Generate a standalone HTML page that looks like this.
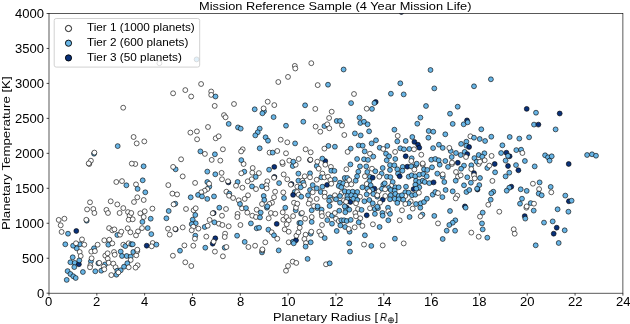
<!DOCTYPE html>
<html><head><meta charset="utf-8"><title>Mission Reference Sample</title>
<style>
html,body{margin:0;padding:0;background:#fff}
body{width:630px;height:324px;position:relative;overflow:hidden;font-family:"Liberation Sans",sans-serif;color:#000}
svg{position:absolute;left:0;top:0}
.t{will-change:transform;position:absolute;white-space:nowrap;line-height:1;transform-origin:0 0}
.tk{font-size:12.5px}
.lb{font-size:11.3px}
.ti{font-size:11.6px}
.yl{font-size:11.2px}
.lg{font-size:10.6px}
circle{stroke:#000;stroke-width:.62}
.a{fill:#fff}.b{fill:#68b5e6}.c{fill:#09317a}
</style></head><body>
<svg width="630" height="324" viewBox="0 0 630 324">
<clipPath id="ax"><rect x="49.00" y="13.50" width="573.90" height="279.70"/></clipPath><g clip-path="url(#ax)"><circle class="c" cx="175.7" cy="229.4" r="2.45"/><circle class="c" cx="213.7" cy="213.0" r="2.45"/><circle class="c" cx="467.0" cy="120.4" r="2.45"/><circle class="c" cx="464.9" cy="206.4" r="2.45"/><circle class="c" cx="325.3" cy="161.1" r="2.45"/><circle class="b" cx="94.0" cy="248.3" r="2.45"/><circle class="b" cx="76.7" cy="248.3" r="2.45"/><circle class="a" cx="159.4" cy="63.2" r="2.45"/><circle class="b" cx="196.6" cy="59.4" r="2.45"/><circle class="b" cx="72.7" cy="257.3" r="2.45"/><circle class="b" cx="70.4" cy="262.3" r="2.45"/><circle class="b" cx="74.7" cy="262.9" r="2.45"/><circle class="b" cx="74.3" cy="267.1" r="2.45"/><circle class="c" cx="78.9" cy="264.3" r="2.45"/><circle class="b" cx="79.3" cy="260.4" r="2.45"/><circle class="b" cx="67.6" cy="271.1" r="2.45"/><circle class="b" cx="70.4" cy="274.0" r="2.45"/><circle class="b" cx="73.3" cy="276.3" r="2.45"/><circle class="b" cx="75.7" cy="278.0" r="2.45"/><circle class="b" cx="66.7" cy="279.9" r="2.45"/><circle class="b" cx="82.9" cy="272.0" r="2.45"/><circle class="b" cx="95.3" cy="271.3" r="2.45"/><circle class="a" cx="79.7" cy="252.0" r="2.45"/><circle class="a" cx="80.7" cy="256.0" r="2.45"/><circle class="a" cx="91.3" cy="251.6" r="2.45"/><circle class="a" cx="94.9" cy="251.1" r="2.45"/><circle class="b" cx="90.9" cy="261.3" r="2.45"/><circle class="a" cx="91.6" cy="258.3" r="2.45"/><circle class="a" cx="90.4" cy="265.3" r="2.45"/><circle class="a" cx="90.0" cy="267.3" r="2.45"/><circle class="b" cx="98.4" cy="263.3" r="2.45"/><circle class="a" cx="99.3" cy="262.9" r="2.45"/><circle class="a" cx="105.3" cy="255.6" r="2.45"/><circle class="a" cx="107.6" cy="253.3" r="2.45"/><circle class="a" cx="107.7" cy="258.7" r="2.45"/><circle class="b" cx="105.1" cy="264.4" r="2.45"/><circle class="a" cx="108.7" cy="262.7" r="2.45"/><circle class="b" cx="101.3" cy="270.7" r="2.45"/><circle class="a" cx="103.7" cy="266.7" r="2.45"/><circle class="a" cx="104.3" cy="269.3" r="2.45"/><circle class="a" cx="113.3" cy="263.6" r="2.45"/><circle class="a" cx="115.6" cy="267.3" r="2.45"/><circle class="b" cx="117.3" cy="270.7" r="2.45"/><circle class="b" cx="120.7" cy="270.3" r="2.45"/><circle class="b" cx="116.4" cy="274.7" r="2.45"/><circle class="a" cx="118.4" cy="272.4" r="2.45"/><circle class="a" cx="111.3" cy="275.1" r="2.45"/><circle class="a" cx="114.0" cy="252.0" r="2.45"/><circle class="a" cx="114.7" cy="254.7" r="2.45"/><circle class="b" cx="120.7" cy="251.6" r="2.45"/><circle class="b" cx="122.0" cy="256.0" r="2.45"/><circle class="b" cx="126.7" cy="256.0" r="2.45"/><circle class="b" cx="130.7" cy="256.7" r="2.45"/><circle class="a" cx="130.7" cy="260.0" r="2.45"/><circle class="b" cx="127.3" cy="263.3" r="2.45"/><circle class="b" cx="124.0" cy="266.7" r="2.45"/><circle class="a" cx="128.7" cy="267.3" r="2.45"/><circle class="a" cx="137.6" cy="265.3" r="2.45"/><circle class="a" cx="135.6" cy="267.6" r="2.45"/><circle class="b" cx="133.3" cy="252.0" r="2.45"/><circle class="a" cx="136.3" cy="255.3" r="2.45"/><circle class="a" cx="137.3" cy="251.1" r="2.45"/><circle class="a" cx="172.9" cy="255.7" r="2.45"/><circle class="b" cx="180.0" cy="250.7" r="2.45"/><circle class="a" cx="185.3" cy="262.3" r="2.45"/><circle class="a" cx="191.3" cy="266.0" r="2.45"/><circle class="a" cx="214.9" cy="251.6" r="2.45"/><circle class="a" cx="222.9" cy="256.3" r="2.45"/><circle class="b" cx="262.0" cy="252.4" r="2.45"/><circle class="a" cx="262.3" cy="250.4" r="2.45"/><circle class="b" cx="278.7" cy="250.4" r="2.45"/><circle class="a" cx="292.7" cy="261.6" r="2.45"/><circle class="a" cx="296.3" cy="262.9" r="2.45"/><circle class="a" cx="288.0" cy="266.0" r="2.45"/><circle class="a" cx="286.0" cy="270.7" r="2.45"/><circle class="b" cx="307.6" cy="258.9" r="2.45"/><circle class="a" cx="326.0" cy="264.3" r="2.45"/><circle class="b" cx="329.7" cy="263.3" r="2.45"/><circle class="b" cx="350.0" cy="251.6" r="2.45"/><circle class="a" cx="58.7" cy="219.9" r="2.45"/><circle class="a" cx="64.4" cy="218.7" r="2.45"/><circle class="a" cx="60.7" cy="225.3" r="2.45"/><circle class="a" cx="61.6" cy="231.9" r="2.45"/><circle class="b" cx="68.0" cy="233.7" r="2.45"/><circle class="c" cx="76.3" cy="231.0" r="2.45"/><circle class="b" cx="86.7" cy="220.7" r="2.45"/><circle class="a" cx="86.3" cy="219.8" r="2.45"/><circle class="a" cx="87.1" cy="209.4" r="2.45"/><circle class="a" cx="93.3" cy="209.0" r="2.45"/><circle class="a" cx="94.4" cy="213.0" r="2.45"/><circle class="a" cx="106.4" cy="209.9" r="2.45"/><circle class="a" cx="108.0" cy="213.0" r="2.45"/><circle class="a" cx="119.6" cy="213.0" r="2.45"/><circle class="a" cx="123.3" cy="208.1" r="2.45"/><circle class="a" cx="128.0" cy="212.1" r="2.45"/><circle class="a" cx="129.6" cy="215.7" r="2.45"/><circle class="a" cx="128.7" cy="219.7" r="2.45"/><circle class="a" cx="131.3" cy="213.0" r="2.45"/><circle class="a" cx="109.1" cy="228.1" r="2.45"/><circle class="a" cx="112.3" cy="230.3" r="2.45"/><circle class="a" cx="114.4" cy="229.4" r="2.45"/><circle class="b" cx="117.3" cy="235.0" r="2.45"/><circle class="a" cx="120.0" cy="234.7" r="2.45"/><circle class="a" cx="121.3" cy="231.7" r="2.45"/><circle class="a" cx="127.7" cy="228.3" r="2.45"/><circle class="a" cx="130.4" cy="232.3" r="2.45"/><circle class="b" cx="65.3" cy="244.3" r="2.45"/><circle class="b" cx="73.1" cy="245.7" r="2.45"/><circle class="b" cx="80.0" cy="244.3" r="2.45"/><circle class="a" cx="76.0" cy="243.3" r="2.45"/><circle class="a" cx="82.0" cy="239.4" r="2.45"/><circle class="a" cx="84.3" cy="244.7" r="2.45"/><circle class="a" cx="97.6" cy="244.7" r="2.45"/><circle class="a" cx="104.3" cy="240.3" r="2.45"/><circle class="a" cx="109.3" cy="239.7" r="2.45"/><circle class="b" cx="108.3" cy="244.7" r="2.45"/><circle class="a" cx="112.3" cy="243.4" r="2.45"/><circle class="a" cx="123.3" cy="244.7" r="2.45"/><circle class="b" cx="125.3" cy="246.1" r="2.45"/><circle class="a" cx="128.7" cy="243.3" r="2.45"/><circle class="b" cx="131.3" cy="244.3" r="2.45"/><circle class="a" cx="152.4" cy="208.6" r="2.45"/><circle class="a" cx="144.7" cy="211.3" r="2.45"/><circle class="a" cx="140.3" cy="213.3" r="2.45"/><circle class="a" cx="143.7" cy="217.0" r="2.45"/><circle class="a" cx="132.7" cy="219.3" r="2.45"/><circle class="b" cx="142.4" cy="221.9" r="2.45"/><circle class="b" cx="150.7" cy="218.7" r="2.45"/><circle class="b" cx="147.7" cy="228.1" r="2.45"/><circle class="b" cx="151.3" cy="234.1" r="2.45"/><circle class="a" cx="142.0" cy="228.1" r="2.45"/><circle class="a" cx="138.0" cy="231.4" r="2.45"/><circle class="a" cx="136.0" cy="235.4" r="2.45"/><circle class="b" cx="132.7" cy="244.3" r="2.45"/><circle class="c" cx="146.7" cy="245.7" r="2.45"/><circle class="a" cx="152.7" cy="243.0" r="2.45"/><circle class="a" cx="151.7" cy="246.3" r="2.45"/><circle class="b" cx="156.4" cy="244.6" r="2.45"/><circle class="a" cx="137.3" cy="249.7" r="2.45"/><circle class="b" cx="168.7" cy="211.0" r="2.45"/><circle class="b" cx="166.4" cy="218.3" r="2.45"/><circle class="a" cx="168.0" cy="228.7" r="2.45"/><circle class="a" cx="169.7" cy="234.6" r="2.45"/><circle class="a" cx="175.3" cy="229.0" r="2.45"/><circle class="a" cx="182.7" cy="227.4" r="2.45"/><circle class="a" cx="186.0" cy="209.0" r="2.45"/><circle class="a" cx="193.6" cy="210.3" r="2.45"/><circle class="a" cx="195.7" cy="208.3" r="2.45"/><circle class="b" cx="195.3" cy="215.0" r="2.45"/><circle class="b" cx="192.7" cy="219.7" r="2.45"/><circle class="b" cx="195.7" cy="223.3" r="2.45"/><circle class="b" cx="191.7" cy="224.1" r="2.45"/><circle class="a" cx="193.3" cy="226.7" r="2.45"/><circle class="a" cx="191.7" cy="230.3" r="2.45"/><circle class="a" cx="198.4" cy="228.6" r="2.45"/><circle class="b" cx="195.3" cy="235.7" r="2.45"/><circle class="a" cx="194.9" cy="238.7" r="2.45"/><circle class="a" cx="184.4" cy="245.4" r="2.45"/><circle class="a" cx="193.3" cy="245.7" r="2.45"/><circle class="b" cx="205.3" cy="247.7" r="2.45"/><circle class="a" cx="206.3" cy="236.6" r="2.45"/><circle class="b" cx="204.7" cy="227.0" r="2.45"/><circle class="a" cx="207.7" cy="225.7" r="2.45"/><circle class="a" cx="209.6" cy="219.9" r="2.45"/><circle class="b" cx="214.4" cy="222.3" r="2.45"/><circle class="a" cx="212.7" cy="213.3" r="2.45"/><circle class="c" cx="215.3" cy="238.3" r="2.45"/><circle class="c" cx="212.7" cy="243.7" r="2.45"/><circle class="a" cx="213.6" cy="241.7" r="2.45"/><circle class="b" cx="219.3" cy="207.7" r="2.45"/><circle class="a" cx="226.0" cy="209.0" r="2.45"/><circle class="a" cx="222.0" cy="215.7" r="2.45"/><circle class="a" cx="218.9" cy="223.7" r="2.45"/><circle class="a" cx="222.4" cy="225.0" r="2.45"/><circle class="a" cx="228.7" cy="226.3" r="2.45"/><circle class="a" cx="225.1" cy="233.7" r="2.45"/><circle class="a" cx="224.7" cy="237.0" r="2.45"/><circle class="b" cx="224.7" cy="247.7" r="2.45"/><circle class="a" cx="226.4" cy="247.0" r="2.45"/><circle class="a" cx="237.6" cy="213.9" r="2.45"/><circle class="a" cx="237.3" cy="217.0" r="2.45"/><circle class="a" cx="240.4" cy="225.0" r="2.45"/><circle class="b" cx="237.1" cy="235.7" r="2.45"/><circle class="b" cx="244.7" cy="241.9" r="2.45"/><circle class="a" cx="248.4" cy="247.0" r="2.45"/><circle class="a" cx="255.1" cy="245.7" r="2.45"/><circle class="a" cx="242.0" cy="208.3" r="2.45"/><circle class="b" cx="246.0" cy="208.1" r="2.45"/><circle class="a" cx="247.3" cy="212.6" r="2.45"/><circle class="a" cx="252.3" cy="215.7" r="2.45"/><circle class="a" cx="256.7" cy="209.7" r="2.45"/><circle class="a" cx="256.0" cy="217.0" r="2.45"/><circle class="b" cx="260.7" cy="212.6" r="2.45"/><circle class="b" cx="260.0" cy="217.4" r="2.45"/><circle class="b" cx="250.9" cy="223.4" r="2.45"/><circle class="b" cx="256.7" cy="228.3" r="2.45"/><circle class="b" cx="259.1" cy="227.7" r="2.45"/><circle class="a" cx="265.3" cy="242.3" r="2.45"/><circle class="a" cx="262.4" cy="249.4" r="2.45"/><circle class="b" cx="266.9" cy="207.7" r="2.45"/><circle class="a" cx="270.9" cy="213.0" r="2.45"/><circle class="a" cx="268.7" cy="218.3" r="2.45"/><circle class="a" cx="275.3" cy="213.7" r="2.45"/><circle class="c" cx="276.7" cy="223.9" r="2.45"/><circle class="b" cx="268.4" cy="229.7" r="2.45"/><circle class="a" cx="271.7" cy="232.3" r="2.45"/><circle class="b" cx="274.0" cy="235.3" r="2.45"/><circle class="a" cx="277.3" cy="238.7" r="2.45"/><circle class="a" cx="282.7" cy="212.3" r="2.45"/><circle class="b" cx="285.3" cy="207.7" r="2.45"/><circle class="a" cx="283.3" cy="219.7" r="2.45"/><circle class="a" cx="286.4" cy="217.0" r="2.45"/><circle class="a" cx="288.7" cy="220.3" r="2.45"/><circle class="a" cx="286.7" cy="224.3" r="2.45"/><circle class="a" cx="284.7" cy="229.4" r="2.45"/><circle class="a" cx="288.7" cy="231.7" r="2.45"/><circle class="a" cx="293.1" cy="216.1" r="2.45"/><circle class="b" cx="295.7" cy="210.3" r="2.45"/><circle class="a" cx="296.0" cy="207.7" r="2.45"/><circle class="a" cx="288.7" cy="242.3" r="2.45"/><circle class="b" cx="293.1" cy="241.7" r="2.45"/><circle class="c" cx="296.0" cy="240.3" r="2.45"/><circle class="b" cx="293.7" cy="243.3" r="2.45"/><circle class="a" cx="296.4" cy="235.7" r="2.45"/><circle class="a" cx="298.4" cy="232.3" r="2.45"/><circle class="b" cx="299.3" cy="223.0" r="2.45"/><circle class="a" cx="299.7" cy="227.7" r="2.45"/><circle class="b" cx="311.7" cy="210.3" r="2.45"/><circle class="b" cx="317.3" cy="208.1" r="2.45"/><circle class="b" cx="321.6" cy="209.7" r="2.45"/><circle class="a" cx="321.6" cy="213.0" r="2.45"/><circle class="a" cx="322.0" cy="216.1" r="2.45"/><circle class="a" cx="311.7" cy="217.0" r="2.45"/><circle class="b" cx="311.7" cy="221.9" r="2.45"/><circle class="a" cx="305.1" cy="218.7" r="2.45"/><circle class="b" cx="301.1" cy="213.7" r="2.45"/><circle class="a" cx="302.0" cy="213.0" r="2.45"/><circle class="b" cx="300.7" cy="223.0" r="2.45"/><circle class="a" cx="322.0" cy="225.0" r="2.45"/><circle class="a" cx="319.3" cy="231.7" r="2.45"/><circle class="a" cx="321.1" cy="235.0" r="2.45"/><circle class="b" cx="324.7" cy="238.1" r="2.45"/><circle class="b" cx="310.7" cy="233.7" r="2.45"/><circle class="a" cx="311.3" cy="231.7" r="2.45"/><circle class="a" cx="305.6" cy="234.7" r="2.45"/><circle class="a" cx="304.4" cy="239.0" r="2.45"/><circle class="b" cx="310.7" cy="242.3" r="2.45"/><circle class="a" cx="306.0" cy="243.0" r="2.45"/><circle class="b" cx="305.6" cy="246.6" r="2.45"/><circle class="a" cx="328.3" cy="214.3" r="2.45"/><circle class="b" cx="332.0" cy="215.7" r="2.45"/><circle class="a" cx="334.9" cy="213.0" r="2.45"/><circle class="b" cx="339.3" cy="210.7" r="2.45"/><circle class="a" cx="336.0" cy="218.7" r="2.45"/><circle class="b" cx="327.3" cy="220.1" r="2.45"/><circle class="b" cx="332.0" cy="223.7" r="2.45"/><circle class="a" cx="338.7" cy="221.0" r="2.45"/><circle class="b" cx="341.3" cy="220.3" r="2.45"/><circle class="b" cx="344.0" cy="220.3" r="2.45"/><circle class="b" cx="346.7" cy="221.0" r="2.45"/><circle class="b" cx="350.7" cy="219.9" r="2.45"/><circle class="b" cx="340.4" cy="225.4" r="2.45"/><circle class="b" cx="345.1" cy="227.0" r="2.45"/><circle class="b" cx="349.6" cy="231.7" r="2.45"/><circle class="a" cx="348.7" cy="229.0" r="2.45"/><circle class="b" cx="336.7" cy="231.0" r="2.45"/><circle class="c" cx="346.7" cy="207.7" r="2.45"/><circle class="b" cx="346.0" cy="209.0" r="2.45"/><circle class="b" cx="349.3" cy="209.7" r="2.45"/><circle class="b" cx="345.3" cy="212.3" r="2.45"/><circle class="a" cx="358.0" cy="209.0" r="2.45"/><circle class="b" cx="361.6" cy="209.9" r="2.45"/><circle class="a" cx="355.3" cy="213.0" r="2.45"/><circle class="a" cx="356.0" cy="216.3" r="2.45"/><circle class="a" cx="360.3" cy="218.3" r="2.45"/><circle class="b" cx="358.7" cy="222.3" r="2.45"/><circle class="a" cx="362.4" cy="225.9" r="2.45"/><circle class="a" cx="354.7" cy="227.3" r="2.45"/><circle class="c" cx="366.7" cy="215.3" r="2.45"/><circle class="a" cx="370.0" cy="208.3" r="2.45"/><circle class="b" cx="374.7" cy="209.0" r="2.45"/><circle class="b" cx="378.0" cy="208.1" r="2.45"/><circle class="b" cx="374.9" cy="213.9" r="2.45"/><circle class="a" cx="372.9" cy="224.3" r="2.45"/><circle class="b" cx="379.6" cy="227.0" r="2.45"/><circle class="b" cx="382.4" cy="213.0" r="2.45"/><circle class="b" cx="382.7" cy="215.7" r="2.45"/><circle class="b" cx="364.9" cy="235.3" r="2.45"/><circle class="b" cx="349.3" cy="243.3" r="2.45"/><circle class="a" cx="364.0" cy="244.6" r="2.45"/><circle class="b" cx="371.3" cy="245.9" r="2.45"/><circle class="a" cx="382.7" cy="245.4" r="2.45"/><circle class="b" cx="388.0" cy="207.7" r="2.45"/><circle class="a" cx="388.3" cy="211.3" r="2.45"/><circle class="b" cx="390.0" cy="213.9" r="2.45"/><circle class="b" cx="388.3" cy="220.3" r="2.45"/><circle class="a" cx="402.0" cy="210.3" r="2.45"/><circle class="a" cx="399.7" cy="220.3" r="2.45"/><circle class="a" cx="412.7" cy="208.6" r="2.45"/><circle class="b" cx="409.6" cy="217.0" r="2.45"/><circle class="b" cx="420.3" cy="207.7" r="2.45"/><circle class="b" cx="422.4" cy="214.6" r="2.45"/><circle class="a" cx="420.7" cy="216.3" r="2.45"/><circle class="b" cx="434.3" cy="215.9" r="2.45"/><circle class="a" cx="438.0" cy="223.4" r="2.45"/><circle class="b" cx="450.0" cy="211.0" r="2.45"/><circle class="b" cx="455.3" cy="220.3" r="2.45"/><circle class="b" cx="452.7" cy="222.7" r="2.45"/><circle class="b" cx="449.3" cy="225.0" r="2.45"/><circle class="b" cx="446.7" cy="230.7" r="2.45"/><circle class="b" cx="455.1" cy="230.7" r="2.45"/><circle class="b" cx="442.7" cy="239.0" r="2.45"/><circle class="b" cx="465.6" cy="207.7" r="2.45"/><circle class="b" cx="394.9" cy="238.7" r="2.45"/><circle class="a" cx="403.7" cy="243.4" r="2.45"/><circle class="b" cx="482.7" cy="212.6" r="2.45"/><circle class="a" cx="480.0" cy="216.6" r="2.45"/><circle class="b" cx="482.0" cy="223.4" r="2.45"/><circle class="b" cx="482.7" cy="229.4" r="2.45"/><circle class="a" cx="471.3" cy="232.6" r="2.45"/><circle class="a" cx="478.7" cy="236.7" r="2.45"/><circle class="b" cx="487.3" cy="237.7" r="2.45"/><circle class="a" cx="499.3" cy="211.7" r="2.45"/><circle class="a" cx="513.7" cy="229.3" r="2.45"/><circle class="a" cx="514.7" cy="233.7" r="2.45"/><circle class="c" cx="524.7" cy="216.1" r="2.45"/><circle class="b" cx="525.3" cy="218.6" r="2.45"/><circle class="a" cx="526.4" cy="207.7" r="2.45"/><circle class="b" cx="533.7" cy="210.6" r="2.45"/><circle class="b" cx="544.0" cy="222.6" r="2.45"/><circle class="b" cx="535.7" cy="245.3" r="2.45"/><circle class="b" cx="557.6" cy="209.3" r="2.45"/><circle class="b" cx="568.4" cy="211.7" r="2.45"/><circle class="b" cx="552.7" cy="221.4" r="2.45"/><circle class="c" cx="556.7" cy="227.7" r="2.45"/><circle class="b" cx="564.7" cy="230.3" r="2.45"/><circle class="c" cx="553.7" cy="233.7" r="2.45"/><circle class="b" cx="558.7" cy="243.0" r="2.45"/><circle class="a" cx="89.3" cy="164.0" r="2.45"/><circle class="a" cx="116.3" cy="182.0" r="2.45"/><circle class="a" cx="122.0" cy="181.1" r="2.45"/><circle class="b" cx="126.4" cy="185.3" r="2.45"/><circle class="a" cx="90.0" cy="202.3" r="2.45"/><circle class="a" cx="110.7" cy="201.3" r="2.45"/><circle class="a" cx="117.3" cy="204.4" r="2.45"/><circle class="a" cx="135.3" cy="164.0" r="2.45"/><circle class="b" cx="143.6" cy="166.3" r="2.45"/><circle class="b" cx="142.7" cy="180.3" r="2.45"/><circle class="a" cx="136.0" cy="184.4" r="2.45"/><circle class="b" cx="137.6" cy="188.9" r="2.45"/><circle class="b" cx="145.3" cy="192.3" r="2.45"/><circle class="a" cx="137.3" cy="197.3" r="2.45"/><circle class="a" cx="143.7" cy="200.0" r="2.45"/><circle class="a" cx="134.0" cy="202.0" r="2.45"/><circle class="b" cx="175.6" cy="169.3" r="2.45"/><circle class="a" cx="173.1" cy="166.9" r="2.45"/><circle class="a" cx="182.7" cy="176.4" r="2.45"/><circle class="a" cx="168.3" cy="185.1" r="2.45"/><circle class="a" cx="172.4" cy="193.6" r="2.45"/><circle class="a" cx="177.1" cy="194.4" r="2.45"/><circle class="b" cx="175.3" cy="203.7" r="2.45"/><circle class="a" cx="173.6" cy="204.4" r="2.45"/><circle class="b" cx="207.3" cy="171.6" r="2.45"/><circle class="b" cx="215.3" cy="174.3" r="2.45"/><circle class="a" cx="195.1" cy="182.9" r="2.45"/><circle class="b" cx="207.3" cy="182.0" r="2.45"/><circle class="b" cx="209.3" cy="186.7" r="2.45"/><circle class="a" cx="209.1" cy="183.7" r="2.45"/><circle class="a" cx="207.3" cy="189.1" r="2.45"/><circle class="a" cx="204.7" cy="190.7" r="2.45"/><circle class="a" cx="201.3" cy="192.3" r="2.45"/><circle class="b" cx="198.0" cy="194.9" r="2.45"/><circle class="b" cx="202.0" cy="196.4" r="2.45"/><circle class="b" cx="190.7" cy="197.3" r="2.45"/><circle class="b" cx="207.3" cy="198.9" r="2.45"/><circle class="b" cx="214.0" cy="196.4" r="2.45"/><circle class="a" cx="221.6" cy="172.9" r="2.45"/><circle class="a" cx="222.0" cy="179.3" r="2.45"/><circle class="c" cx="228.4" cy="182.4" r="2.45"/><circle class="a" cx="228.0" cy="181.3" r="2.45"/><circle class="a" cx="243.6" cy="164.0" r="2.45"/><circle class="b" cx="244.3" cy="171.7" r="2.45"/><circle class="a" cx="241.3" cy="173.3" r="2.45"/><circle class="b" cx="237.6" cy="182.0" r="2.45"/><circle class="a" cx="236.0" cy="185.7" r="2.45"/><circle class="a" cx="242.4" cy="187.7" r="2.45"/><circle class="a" cx="226.4" cy="191.7" r="2.45"/><circle class="b" cx="229.3" cy="193.6" r="2.45"/><circle class="a" cx="229.1" cy="195.7" r="2.45"/><circle class="a" cx="233.1" cy="198.0" r="2.45"/><circle class="a" cx="238.7" cy="200.3" r="2.45"/><circle class="b" cx="240.0" cy="204.0" r="2.45"/><circle class="a" cx="248.0" cy="195.3" r="2.45"/><circle class="a" cx="244.7" cy="198.9" r="2.45"/><circle class="a" cx="252.7" cy="168.0" r="2.45"/><circle class="a" cx="252.3" cy="172.7" r="2.45"/><circle class="a" cx="258.9" cy="173.1" r="2.45"/><circle class="b" cx="255.7" cy="176.9" r="2.45"/><circle class="a" cx="251.7" cy="179.3" r="2.45"/><circle class="a" cx="247.7" cy="181.3" r="2.45"/><circle class="b" cx="252.0" cy="186.4" r="2.45"/><circle class="a" cx="256.0" cy="189.1" r="2.45"/><circle class="b" cx="262.0" cy="186.4" r="2.45"/><circle class="a" cx="267.3" cy="181.3" r="2.45"/><circle class="a" cx="266.4" cy="185.3" r="2.45"/><circle class="a" cx="266.7" cy="188.4" r="2.45"/><circle class="b" cx="269.1" cy="169.7" r="2.45"/><circle class="c" cx="274.3" cy="166.9" r="2.45"/><circle class="c" cx="274.4" cy="176.9" r="2.45"/><circle class="a" cx="274.0" cy="177.7" r="2.45"/><circle class="b" cx="279.1" cy="183.1" r="2.45"/><circle class="a" cx="283.7" cy="174.4" r="2.45"/><circle class="a" cx="287.3" cy="179.3" r="2.45"/><circle class="c" cx="291.5" cy="184.0" r="2.45"/><circle class="a" cx="290.8" cy="184.7" r="2.45"/><circle class="a" cx="275.1" cy="191.7" r="2.45"/><circle class="b" cx="263.7" cy="196.0" r="2.45"/><circle class="b" cx="264.3" cy="200.0" r="2.45"/><circle class="a" cx="262.0" cy="204.0" r="2.45"/><circle class="a" cx="274.0" cy="197.3" r="2.45"/><circle class="a" cx="272.0" cy="202.7" r="2.45"/><circle class="a" cx="269.3" cy="204.0" r="2.45"/><circle class="b" cx="267.3" cy="206.4" r="2.45"/><circle class="a" cx="283.3" cy="192.4" r="2.45"/><circle class="b" cx="284.0" cy="198.0" r="2.45"/><circle class="b" cx="292.7" cy="166.0" r="2.45"/><circle class="a" cx="295.7" cy="164.7" r="2.45"/><circle class="b" cx="298.4" cy="173.6" r="2.45"/><circle class="b" cx="298.4" cy="180.7" r="2.45"/><circle class="a" cx="297.3" cy="186.7" r="2.45"/><circle class="b" cx="294.7" cy="192.0" r="2.45"/><circle class="c" cx="293.1" cy="194.9" r="2.45"/><circle class="a" cx="297.1" cy="192.0" r="2.45"/><circle class="a" cx="298.7" cy="194.7" r="2.45"/><circle class="a" cx="294.0" cy="202.7" r="2.45"/><circle class="a" cx="297.3" cy="203.7" r="2.45"/><circle class="a" cx="282.7" cy="164.0" r="2.45"/><circle class="b" cx="316.7" cy="166.0" r="2.45"/><circle class="a" cx="318.7" cy="168.7" r="2.45"/><circle class="a" cx="325.3" cy="164.7" r="2.45"/><circle class="a" cx="330.9" cy="166.9" r="2.45"/><circle class="b" cx="331.3" cy="170.7" r="2.45"/><circle class="b" cx="334.4" cy="170.9" r="2.45"/><circle class="a" cx="346.4" cy="169.3" r="2.45"/><circle class="b" cx="350.4" cy="164.4" r="2.45"/><circle class="b" cx="360.0" cy="166.4" r="2.45"/><circle class="b" cx="366.3" cy="166.4" r="2.45"/><circle class="a" cx="372.0" cy="168.7" r="2.45"/><circle class="b" cx="358.3" cy="171.7" r="2.45"/><circle class="b" cx="367.3" cy="172.0" r="2.45"/><circle class="b" cx="375.3" cy="171.3" r="2.45"/><circle class="b" cx="382.7" cy="168.0" r="2.45"/><circle class="b" cx="381.6" cy="173.6" r="2.45"/><circle class="a" cx="379.3" cy="176.7" r="2.45"/><circle class="b" cx="310.0" cy="173.3" r="2.45"/><circle class="a" cx="304.7" cy="176.3" r="2.45"/><circle class="a" cx="310.0" cy="177.3" r="2.45"/><circle class="a" cx="302.4" cy="180.7" r="2.45"/><circle class="a" cx="322.4" cy="173.6" r="2.45"/><circle class="b" cx="321.3" cy="177.3" r="2.45"/><circle class="a" cx="324.4" cy="177.3" r="2.45"/><circle class="a" cx="328.0" cy="176.7" r="2.45"/><circle class="a" cx="316.7" cy="179.7" r="2.45"/><circle class="b" cx="334.9" cy="179.3" r="2.45"/><circle class="a" cx="330.4" cy="180.0" r="2.45"/><circle class="b" cx="344.7" cy="178.0" r="2.45"/><circle class="b" cx="347.3" cy="178.0" r="2.45"/><circle class="a" cx="349.3" cy="180.0" r="2.45"/><circle class="b" cx="357.1" cy="176.3" r="2.45"/><circle class="b" cx="355.7" cy="180.7" r="2.45"/><circle class="a" cx="364.9" cy="176.3" r="2.45"/><circle class="b" cx="370.0" cy="176.9" r="2.45"/><circle class="c" cx="372.7" cy="177.7" r="2.45"/><circle class="b" cx="369.3" cy="181.3" r="2.45"/><circle class="a" cx="366.7" cy="184.0" r="2.45"/><circle class="b" cx="303.3" cy="182.7" r="2.45"/><circle class="a" cx="304.0" cy="185.3" r="2.45"/><circle class="b" cx="300.7" cy="187.3" r="2.45"/><circle class="b" cx="312.7" cy="185.1" r="2.45"/><circle class="b" cx="316.7" cy="188.3" r="2.45"/><circle class="b" cx="322.4" cy="186.7" r="2.45"/><circle class="c" cx="327.1" cy="184.9" r="2.45"/><circle class="a" cx="331.3" cy="183.7" r="2.45"/><circle class="b" cx="340.0" cy="182.7" r="2.45"/><circle class="b" cx="343.3" cy="183.3" r="2.45"/><circle class="a" cx="346.7" cy="184.7" r="2.45"/><circle class="b" cx="338.7" cy="186.0" r="2.45"/><circle class="b" cx="341.3" cy="187.3" r="2.45"/><circle class="a" cx="351.3" cy="184.3" r="2.45"/><circle class="b" cx="362.4" cy="187.3" r="2.45"/><circle class="b" cx="367.3" cy="188.7" r="2.45"/><circle class="b" cx="370.7" cy="185.3" r="2.45"/><circle class="c" cx="374.4" cy="188.7" r="2.45"/><circle class="b" cx="372.0" cy="190.0" r="2.45"/><circle class="a" cx="369.3" cy="191.3" r="2.45"/><circle class="a" cx="378.7" cy="191.3" r="2.45"/><circle class="b" cx="383.3" cy="184.7" r="2.45"/><circle class="b" cx="382.0" cy="188.7" r="2.45"/><circle class="b" cx="310.0" cy="190.0" r="2.45"/><circle class="a" cx="312.7" cy="192.3" r="2.45"/><circle class="b" cx="308.0" cy="195.3" r="2.45"/><circle class="b" cx="320.7" cy="192.0" r="2.45"/><circle class="a" cx="324.7" cy="192.7" r="2.45"/><circle class="a" cx="324.7" cy="196.7" r="2.45"/><circle class="a" cx="316.7" cy="198.9" r="2.45"/><circle class="b" cx="301.3" cy="196.7" r="2.45"/><circle class="a" cx="334.9" cy="195.3" r="2.45"/><circle class="b" cx="330.0" cy="197.3" r="2.45"/><circle class="a" cx="341.6" cy="193.1" r="2.45"/><circle class="b" cx="344.7" cy="191.3" r="2.45"/><circle class="b" cx="348.7" cy="192.0" r="2.45"/><circle class="b" cx="352.7" cy="191.7" r="2.45"/><circle class="b" cx="357.3" cy="192.0" r="2.45"/><circle class="b" cx="340.0" cy="196.0" r="2.45"/><circle class="b" cx="347.3" cy="196.0" r="2.45"/><circle class="b" cx="351.3" cy="195.3" r="2.45"/><circle class="a" cx="360.0" cy="196.7" r="2.45"/><circle class="b" cx="355.3" cy="196.0" r="2.45"/><circle class="b" cx="366.7" cy="194.4" r="2.45"/><circle class="b" cx="373.3" cy="194.0" r="2.45"/><circle class="b" cx="377.3" cy="196.7" r="2.45"/><circle class="a" cx="377.3" cy="195.3" r="2.45"/><circle class="a" cx="310.0" cy="200.0" r="2.45"/><circle class="a" cx="308.7" cy="203.6" r="2.45"/><circle class="a" cx="314.0" cy="206.0" r="2.45"/><circle class="a" cx="330.9" cy="200.0" r="2.45"/><circle class="b" cx="336.0" cy="199.3" r="2.45"/><circle class="b" cx="329.1" cy="200.7" r="2.45"/><circle class="b" cx="340.0" cy="202.7" r="2.45"/><circle class="b" cx="329.6" cy="206.0" r="2.45"/><circle class="a" cx="344.0" cy="200.3" r="2.45"/><circle class="b" cx="347.3" cy="199.3" r="2.45"/><circle class="c" cx="350.4" cy="202.0" r="2.45"/><circle class="b" cx="353.3" cy="198.9" r="2.45"/><circle class="a" cx="346.0" cy="202.0" r="2.45"/><circle class="b" cx="357.3" cy="200.0" r="2.45"/><circle class="a" cx="356.0" cy="203.3" r="2.45"/><circle class="b" cx="364.4" cy="201.3" r="2.45"/><circle class="b" cx="369.3" cy="200.0" r="2.45"/><circle class="b" cx="372.7" cy="203.3" r="2.45"/><circle class="b" cx="377.3" cy="206.7" r="2.45"/><circle class="c" cx="382.7" cy="199.7" r="2.45"/><circle class="a" cx="380.0" cy="202.7" r="2.45"/><circle class="b" cx="317.6" cy="206.4" r="2.45"/><circle class="b" cx="344.7" cy="206.4" r="2.45"/><circle class="b" cx="390.0" cy="165.1" r="2.45"/><circle class="b" cx="394.4" cy="165.3" r="2.45"/><circle class="b" cx="397.3" cy="169.3" r="2.45"/><circle class="b" cx="402.7" cy="166.9" r="2.45"/><circle class="c" cx="407.3" cy="166.7" r="2.45"/><circle class="b" cx="411.3" cy="166.4" r="2.45"/><circle class="b" cx="416.0" cy="165.1" r="2.45"/><circle class="a" cx="414.4" cy="169.6" r="2.45"/><circle class="a" cx="422.7" cy="164.7" r="2.45"/><circle class="b" cx="424.0" cy="169.3" r="2.45"/><circle class="b" cx="427.3" cy="170.0" r="2.45"/><circle class="b" cx="432.0" cy="167.3" r="2.45"/><circle class="b" cx="439.7" cy="164.7" r="2.45"/><circle class="b" cx="448.0" cy="166.9" r="2.45"/><circle class="a" cx="452.0" cy="164.0" r="2.45"/><circle class="b" cx="464.0" cy="165.6" r="2.45"/><circle class="b" cx="461.1" cy="168.7" r="2.45"/><circle class="b" cx="390.0" cy="170.0" r="2.45"/><circle class="b" cx="402.4" cy="170.7" r="2.45"/><circle class="b" cx="386.9" cy="176.7" r="2.45"/><circle class="b" cx="390.4" cy="177.1" r="2.45"/><circle class="b" cx="398.0" cy="173.6" r="2.45"/><circle class="c" cx="399.7" cy="176.3" r="2.45"/><circle class="b" cx="408.7" cy="176.7" r="2.45"/><circle class="b" cx="411.7" cy="175.3" r="2.45"/><circle class="b" cx="415.3" cy="176.3" r="2.45"/><circle class="b" cx="419.3" cy="174.7" r="2.45"/><circle class="b" cx="423.3" cy="174.0" r="2.45"/><circle class="b" cx="426.7" cy="176.3" r="2.45"/><circle class="b" cx="437.3" cy="173.6" r="2.45"/><circle class="b" cx="442.7" cy="176.7" r="2.45"/><circle class="a" cx="442.7" cy="174.4" r="2.45"/><circle class="a" cx="456.0" cy="172.0" r="2.45"/><circle class="a" cx="458.0" cy="176.7" r="2.45"/><circle class="a" cx="460.7" cy="175.3" r="2.45"/><circle class="b" cx="467.3" cy="177.3" r="2.45"/><circle class="b" cx="455.7" cy="180.7" r="2.45"/><circle class="b" cx="384.7" cy="183.3" r="2.45"/><circle class="b" cx="392.7" cy="182.0" r="2.45"/><circle class="a" cx="391.3" cy="186.0" r="2.45"/><circle class="b" cx="388.7" cy="188.0" r="2.45"/><circle class="b" cx="395.3" cy="187.3" r="2.45"/><circle class="b" cx="398.7" cy="187.3" r="2.45"/><circle class="b" cx="406.0" cy="186.7" r="2.45"/><circle class="b" cx="416.0" cy="180.7" r="2.45"/><circle class="b" cx="419.3" cy="182.0" r="2.45"/><circle class="b" cx="422.7" cy="180.7" r="2.45"/><circle class="b" cx="424.7" cy="182.0" r="2.45"/><circle class="b" cx="415.3" cy="184.7" r="2.45"/><circle class="b" cx="429.3" cy="183.1" r="2.45"/><circle class="c" cx="433.6" cy="182.4" r="2.45"/><circle class="b" cx="444.3" cy="182.0" r="2.45"/><circle class="b" cx="464.0" cy="185.3" r="2.45"/><circle class="b" cx="419.3" cy="187.3" r="2.45"/><circle class="c" cx="413.6" cy="189.1" r="2.45"/><circle class="b" cx="416.3" cy="188.7" r="2.45"/><circle class="a" cx="385.1" cy="189.3" r="2.45"/><circle class="b" cx="390.7" cy="190.0" r="2.45"/><circle class="b" cx="394.7" cy="190.7" r="2.45"/><circle class="a" cx="385.3" cy="196.0" r="2.45"/><circle class="b" cx="390.7" cy="195.3" r="2.45"/><circle class="b" cx="395.3" cy="194.0" r="2.45"/><circle class="b" cx="398.7" cy="196.0" r="2.45"/><circle class="b" cx="405.3" cy="192.3" r="2.45"/><circle class="b" cx="408.7" cy="192.7" r="2.45"/><circle class="a" cx="405.3" cy="196.0" r="2.45"/><circle class="b" cx="412.0" cy="195.3" r="2.45"/><circle class="b" cx="415.3" cy="194.7" r="2.45"/><circle class="a" cx="418.9" cy="192.7" r="2.45"/><circle class="b" cx="402.0" cy="195.3" r="2.45"/><circle class="b" cx="432.7" cy="194.7" r="2.45"/><circle class="b" cx="435.3" cy="192.0" r="2.45"/><circle class="a" cx="438.0" cy="193.1" r="2.45"/><circle class="b" cx="445.6" cy="190.0" r="2.45"/><circle class="b" cx="452.7" cy="191.3" r="2.45"/><circle class="b" cx="442.4" cy="197.1" r="2.45"/><circle class="a" cx="457.3" cy="195.7" r="2.45"/><circle class="a" cx="455.7" cy="198.4" r="2.45"/><circle class="b" cx="466.4" cy="192.0" r="2.45"/><circle class="b" cx="390.0" cy="199.3" r="2.45"/><circle class="b" cx="394.7" cy="198.9" r="2.45"/><circle class="b" cx="398.7" cy="199.3" r="2.45"/><circle class="b" cx="403.3" cy="199.7" r="2.45"/><circle class="b" cx="397.3" cy="202.9" r="2.45"/><circle class="a" cx="410.7" cy="201.3" r="2.45"/><circle class="b" cx="408.7" cy="203.3" r="2.45"/><circle class="a" cx="405.3" cy="204.0" r="2.45"/><circle class="b" cx="416.0" cy="204.0" r="2.45"/><circle class="b" cx="420.7" cy="203.3" r="2.45"/><circle class="b" cx="424.0" cy="202.0" r="2.45"/><circle class="b" cx="426.9" cy="198.7" r="2.45"/><circle class="b" cx="471.3" cy="165.3" r="2.45"/><circle class="a" cx="471.3" cy="169.1" r="2.45"/><circle class="a" cx="478.7" cy="164.0" r="2.45"/><circle class="b" cx="487.3" cy="168.0" r="2.45"/><circle class="a" cx="489.3" cy="165.6" r="2.45"/><circle class="c" cx="494.7" cy="164.0" r="2.45"/><circle class="b" cx="495.1" cy="172.3" r="2.45"/><circle class="c" cx="508.0" cy="166.0" r="2.45"/><circle class="b" cx="516.0" cy="165.1" r="2.45"/><circle class="c" cx="518.4" cy="170.3" r="2.45"/><circle class="b" cx="534.7" cy="166.4" r="2.45"/><circle class="c" cx="474.0" cy="173.1" r="2.45"/><circle class="a" cx="474.0" cy="175.3" r="2.45"/><circle class="a" cx="474.7" cy="178.4" r="2.45"/><circle class="b" cx="480.0" cy="178.0" r="2.45"/><circle class="b" cx="470.9" cy="182.7" r="2.45"/><circle class="b" cx="479.3" cy="185.1" r="2.45"/><circle class="c" cx="477.5" cy="189.5" r="2.45"/><circle class="b" cx="477.1" cy="188.7" r="2.45"/><circle class="b" cx="469.3" cy="190.0" r="2.45"/><circle class="a" cx="492.4" cy="180.9" r="2.45"/><circle class="b" cx="509.3" cy="172.7" r="2.45"/><circle class="b" cx="505.6" cy="176.4" r="2.45"/><circle class="b" cx="493.3" cy="191.7" r="2.45"/><circle class="b" cx="491.3" cy="193.3" r="2.45"/><circle class="b" cx="490.7" cy="199.7" r="2.45"/><circle class="a" cx="488.3" cy="204.7" r="2.45"/><circle class="c" cx="511.3" cy="186.7" r="2.45"/><circle class="b" cx="509.3" cy="187.7" r="2.45"/><circle class="b" cx="506.7" cy="190.7" r="2.45"/><circle class="b" cx="520.7" cy="189.3" r="2.45"/><circle class="b" cx="526.7" cy="190.9" r="2.45"/><circle class="b" cx="522.0" cy="198.7" r="2.45"/><circle class="b" cx="520.0" cy="203.7" r="2.45"/><circle class="a" cx="526.7" cy="206.4" r="2.45"/><circle class="b" cx="530.7" cy="203.1" r="2.45"/><circle class="a" cx="534.0" cy="203.7" r="2.45"/><circle class="a" cx="532.9" cy="183.7" r="2.45"/><circle class="b" cx="539.6" cy="182.4" r="2.45"/><circle class="a" cx="539.1" cy="189.1" r="2.45"/><circle class="b" cx="538.7" cy="193.6" r="2.45"/><circle class="b" cx="541.7" cy="195.3" r="2.45"/><circle class="b" cx="550.7" cy="186.9" r="2.45"/><circle class="a" cx="551.3" cy="192.3" r="2.45"/><circle class="b" cx="565.3" cy="195.6" r="2.45"/><circle class="c" cx="568.9" cy="201.3" r="2.45"/><circle class="b" cx="571.6" cy="200.7" r="2.45"/><circle class="c" cx="568.7" cy="164.0" r="2.45"/><circle class="b" cx="117.7" cy="146.1" r="2.45"/><circle class="b" cx="94.0" cy="153.7" r="2.45"/><circle class="a" cx="94.4" cy="152.6" r="2.45"/><circle class="a" cx="90.9" cy="160.7" r="2.45"/><circle class="a" cx="88.7" cy="163.4" r="2.45"/><circle class="a" cx="133.6" cy="137.0" r="2.45"/><circle class="a" cx="136.7" cy="143.4" r="2.45"/><circle class="a" cx="144.3" cy="141.4" r="2.45"/><circle class="a" cx="181.1" cy="159.3" r="2.45"/><circle class="a" cx="190.4" cy="132.6" r="2.45"/><circle class="a" cx="196.9" cy="131.4" r="2.45"/><circle class="a" cx="208.0" cy="127.0" r="2.45"/><circle class="a" cx="197.1" cy="139.3" r="2.45"/><circle class="b" cx="200.4" cy="151.4" r="2.45"/><circle class="a" cx="204.9" cy="153.9" r="2.45"/><circle class="a" cx="211.7" cy="159.9" r="2.45"/><circle class="b" cx="214.9" cy="154.3" r="2.45"/><circle class="a" cx="215.7" cy="138.3" r="2.45"/><circle class="b" cx="228.7" cy="123.9" r="2.45"/><circle class="b" cx="238.0" cy="127.4" r="2.45"/><circle class="b" cx="240.7" cy="128.6" r="2.45"/><circle class="b" cx="259.7" cy="128.6" r="2.45"/><circle class="b" cx="257.7" cy="132.3" r="2.45"/><circle class="b" cx="255.3" cy="135.4" r="2.45"/><circle class="b" cx="265.6" cy="137.3" r="2.45"/><circle class="b" cx="268.0" cy="140.7" r="2.45"/><circle class="b" cx="286.0" cy="125.7" r="2.45"/><circle class="b" cx="259.7" cy="148.3" r="2.45"/><circle class="a" cx="218.7" cy="136.3" r="2.45"/><circle class="a" cx="222.9" cy="149.3" r="2.45"/><circle class="a" cx="220.3" cy="160.6" r="2.45"/><circle class="a" cx="242.7" cy="149.3" r="2.45"/><circle class="a" cx="241.1" cy="151.4" r="2.45"/><circle class="b" cx="241.3" cy="160.1" r="2.45"/><circle class="a" cx="280.7" cy="139.7" r="2.45"/><circle class="a" cx="287.3" cy="142.3" r="2.45"/><circle class="b" cx="295.1" cy="143.4" r="2.45"/><circle class="a" cx="269.6" cy="152.6" r="2.45"/><circle class="b" cx="272.7" cy="152.6" r="2.45"/><circle class="a" cx="277.3" cy="151.0" r="2.45"/><circle class="a" cx="286.0" cy="153.3" r="2.45"/><circle class="a" cx="282.3" cy="162.3" r="2.45"/><circle class="a" cx="289.3" cy="160.6" r="2.45"/><circle class="b" cx="293.3" cy="161.7" r="2.45"/><circle class="a" cx="298.7" cy="159.0" r="2.45"/><circle class="b" cx="303.3" cy="121.7" r="2.45"/><circle class="a" cx="315.6" cy="126.6" r="2.45"/><circle class="a" cx="320.3" cy="131.7" r="2.45"/><circle class="b" cx="324.4" cy="126.1" r="2.45"/><circle class="a" cx="327.3" cy="124.3" r="2.45"/><circle class="a" cx="329.3" cy="128.3" r="2.45"/><circle class="b" cx="336.7" cy="121.0" r="2.45"/><circle class="b" cx="340.0" cy="121.0" r="2.45"/><circle class="a" cx="342.0" cy="125.4" r="2.45"/><circle class="a" cx="344.3" cy="135.0" r="2.45"/><circle class="b" cx="360.3" cy="123.0" r="2.45"/><circle class="b" cx="364.0" cy="121.7" r="2.45"/><circle class="b" cx="367.6" cy="124.3" r="2.45"/><circle class="b" cx="369.1" cy="131.3" r="2.45"/><circle class="b" cx="354.9" cy="133.4" r="2.45"/><circle class="b" cx="360.7" cy="135.4" r="2.45"/><circle class="b" cx="376.0" cy="140.3" r="2.45"/><circle class="b" cx="371.6" cy="143.4" r="2.45"/><circle class="b" cx="358.7" cy="145.4" r="2.45"/><circle class="b" cx="362.7" cy="145.7" r="2.45"/><circle class="b" cx="379.7" cy="147.7" r="2.45"/><circle class="a" cx="383.3" cy="149.0" r="2.45"/><circle class="b" cx="328.4" cy="145.9" r="2.45"/><circle class="b" cx="334.9" cy="146.7" r="2.45"/><circle class="a" cx="324.4" cy="148.6" r="2.45"/><circle class="b" cx="350.7" cy="148.6" r="2.45"/><circle class="a" cx="347.6" cy="151.9" r="2.45"/><circle class="b" cx="364.7" cy="151.4" r="2.45"/><circle class="a" cx="370.0" cy="153.7" r="2.45"/><circle class="b" cx="373.3" cy="156.6" r="2.45"/><circle class="a" cx="305.6" cy="149.3" r="2.45"/><circle class="a" cx="310.7" cy="152.3" r="2.45"/><circle class="b" cx="322.3" cy="158.6" r="2.45"/><circle class="a" cx="317.3" cy="161.7" r="2.45"/><circle class="c" cx="310.0" cy="160.1" r="2.45"/><circle class="a" cx="310.4" cy="159.7" r="2.45"/><circle class="b" cx="357.1" cy="159.0" r="2.45"/><circle class="b" cx="364.0" cy="159.3" r="2.45"/><circle class="b" cx="368.0" cy="159.9" r="2.45"/><circle class="b" cx="417.3" cy="123.7" r="2.45"/><circle class="b" cx="394.4" cy="129.7" r="2.45"/><circle class="b" cx="452.7" cy="123.9" r="2.45"/><circle class="b" cx="463.7" cy="124.3" r="2.45"/><circle class="b" cx="467.7" cy="122.3" r="2.45"/><circle class="a" cx="397.7" cy="135.9" r="2.45"/><circle class="b" cx="397.3" cy="141.4" r="2.45"/><circle class="b" cx="405.7" cy="141.0" r="2.45"/><circle class="b" cx="412.3" cy="137.0" r="2.45"/><circle class="c" cx="414.4" cy="141.9" r="2.45"/><circle class="c" cx="418.0" cy="144.7" r="2.45"/><circle class="c" cx="419.3" cy="147.7" r="2.45"/><circle class="b" cx="428.7" cy="131.0" r="2.45"/><circle class="b" cx="433.3" cy="131.7" r="2.45"/><circle class="b" cx="428.4" cy="137.7" r="2.45"/><circle class="b" cx="445.3" cy="134.3" r="2.45"/><circle class="b" cx="387.3" cy="145.9" r="2.45"/><circle class="b" cx="400.3" cy="148.3" r="2.45"/><circle class="b" cx="404.0" cy="149.3" r="2.45"/><circle class="b" cx="409.3" cy="149.0" r="2.45"/><circle class="a" cx="414.0" cy="149.3" r="2.45"/><circle class="a" cx="395.1" cy="151.9" r="2.45"/><circle class="b" cx="433.1" cy="148.1" r="2.45"/><circle class="b" cx="438.9" cy="144.7" r="2.45"/><circle class="b" cx="442.7" cy="147.9" r="2.45"/><circle class="b" cx="450.7" cy="151.0" r="2.45"/><circle class="a" cx="449.3" cy="147.9" r="2.45"/><circle class="b" cx="461.1" cy="143.9" r="2.45"/><circle class="b" cx="466.4" cy="141.7" r="2.45"/><circle class="b" cx="466.4" cy="145.7" r="2.45"/><circle class="b" cx="386.0" cy="153.7" r="2.45"/><circle class="b" cx="389.1" cy="156.3" r="2.45"/><circle class="b" cx="386.7" cy="160.3" r="2.45"/><circle class="b" cx="395.3" cy="159.0" r="2.45"/><circle class="c" cx="405.7" cy="156.3" r="2.45"/><circle class="b" cx="411.7" cy="158.3" r="2.45"/><circle class="a" cx="411.3" cy="161.0" r="2.45"/><circle class="a" cx="421.3" cy="154.7" r="2.45"/><circle class="a" cx="422.7" cy="163.4" r="2.45"/><circle class="b" cx="416.7" cy="163.7" r="2.45"/><circle class="b" cx="431.3" cy="159.7" r="2.45"/><circle class="b" cx="435.3" cy="159.0" r="2.45"/><circle class="b" cx="438.7" cy="160.3" r="2.45"/><circle class="b" cx="445.3" cy="161.0" r="2.45"/><circle class="b" cx="451.7" cy="157.0" r="2.45"/><circle class="b" cx="456.0" cy="153.0" r="2.45"/><circle class="b" cx="460.7" cy="155.0" r="2.45"/><circle class="b" cx="464.7" cy="151.9" r="2.45"/><circle class="c" cx="467.3" cy="154.1" r="2.45"/><circle class="a" cx="466.0" cy="157.0" r="2.45"/><circle class="a" cx="452.0" cy="162.6" r="2.45"/><circle class="b" cx="481.3" cy="129.3" r="2.45"/><circle class="b" cx="534.0" cy="124.6" r="2.45"/><circle class="c" cx="538.4" cy="124.6" r="2.45"/><circle class="a" cx="470.4" cy="136.3" r="2.45"/><circle class="b" cx="474.0" cy="137.7" r="2.45"/><circle class="b" cx="479.7" cy="139.0" r="2.45"/><circle class="b" cx="485.1" cy="141.0" r="2.45"/><circle class="b" cx="491.3" cy="136.7" r="2.45"/><circle class="b" cx="509.7" cy="137.0" r="2.45"/><circle class="b" cx="519.3" cy="138.6" r="2.45"/><circle class="b" cx="529.1" cy="137.3" r="2.45"/><circle class="c" cx="469.1" cy="147.0" r="2.45"/><circle class="b" cx="502.4" cy="145.3" r="2.45"/><circle class="b" cx="516.3" cy="150.1" r="2.45"/><circle class="b" cx="521.1" cy="149.7" r="2.45"/><circle class="a" cx="522.4" cy="153.0" r="2.45"/><circle class="b" cx="501.1" cy="153.0" r="2.45"/><circle class="c" cx="506.4" cy="152.7" r="2.45"/><circle class="c" cx="509.6" cy="156.3" r="2.45"/><circle class="b" cx="508.0" cy="155.9" r="2.45"/><circle class="b" cx="505.6" cy="160.6" r="2.45"/><circle class="b" cx="524.9" cy="161.0" r="2.45"/><circle class="b" cx="484.4" cy="153.3" r="2.45"/><circle class="b" cx="478.7" cy="155.0" r="2.45"/><circle class="b" cx="482.3" cy="156.7" r="2.45"/><circle class="b" cx="474.4" cy="158.1" r="2.45"/><circle class="a" cx="491.6" cy="155.9" r="2.45"/><circle class="a" cx="484.7" cy="160.3" r="2.45"/><circle class="b" cx="476.7" cy="161.7" r="2.45"/><circle class="a" cx="480.0" cy="161.7" r="2.45"/><circle class="b" cx="545.1" cy="155.3" r="2.45"/><circle class="b" cx="548.0" cy="157.3" r="2.45"/><circle class="b" cx="549.6" cy="160.6" r="2.45"/><circle class="b" cx="551.7" cy="156.3" r="2.45"/><circle class="b" cx="555.6" cy="129.4" r="2.45"/><circle class="b" cx="587.1" cy="155.0" r="2.45"/><circle class="b" cx="592.0" cy="154.3" r="2.45"/><circle class="b" cx="596.0" cy="155.7" r="2.45"/><circle class="a" cx="123.2" cy="107.7" r="2.45"/><circle class="a" cx="173.1" cy="93.3" r="2.45"/><circle class="a" cx="185.3" cy="90.1" r="2.45"/><circle class="a" cx="191.2" cy="96.5" r="2.45"/><circle class="a" cx="201.1" cy="84.0" r="2.45"/><circle class="a" cx="211.2" cy="91.5" r="2.45"/><circle class="a" cx="211.2" cy="94.9" r="2.45"/><circle class="b" cx="215.5" cy="96.5" r="2.45"/><circle class="a" cx="214.7" cy="105.9" r="2.45"/><circle class="a" cx="234.0" cy="104.0" r="2.45"/><circle class="a" cx="224.0" cy="115.1" r="2.45"/><circle class="a" cx="225.6" cy="117.3" r="2.45"/><circle class="b" cx="254.7" cy="109.3" r="2.45"/><circle class="a" cx="267.7" cy="101.7" r="2.45"/><circle class="a" cx="274.3" cy="105.1" r="2.45"/><circle class="b" cx="264.0" cy="111.3" r="2.45"/><circle class="b" cx="262.4" cy="113.3" r="2.45"/><circle class="a" cx="263.6" cy="108.4" r="2.45"/><circle class="b" cx="273.6" cy="117.1" r="2.45"/><circle class="a" cx="278.3" cy="82.0" r="2.45"/><circle class="a" cx="288.0" cy="76.9" r="2.45"/><circle class="a" cx="317.7" cy="85.1" r="2.45"/><circle class="b" cx="328.0" cy="84.7" r="2.45"/><circle class="a" cx="354.0" cy="94.0" r="2.45"/><circle class="b" cx="351.1" cy="103.1" r="2.45"/><circle class="b" cx="305.1" cy="105.3" r="2.45"/><circle class="a" cx="315.3" cy="108.9" r="2.45"/><circle class="a" cx="331.7" cy="111.7" r="2.45"/><circle class="a" cx="329.1" cy="118.0" r="2.45"/><circle class="c" cx="375.7" cy="102.0" r="2.45"/><circle class="b" cx="374.4" cy="103.1" r="2.45"/><circle class="a" cx="366.7" cy="108.7" r="2.45"/><circle class="b" cx="372.0" cy="108.9" r="2.45"/><circle class="b" cx="400.3" cy="83.3" r="2.45"/><circle class="b" cx="390.9" cy="93.7" r="2.45"/><circle class="b" cx="403.7" cy="94.4" r="2.45"/><circle class="b" cx="434.3" cy="88.4" r="2.45"/><circle class="b" cx="426.0" cy="106.0" r="2.45"/><circle class="b" cx="420.4" cy="117.6" r="2.45"/><circle class="b" cx="457.7" cy="106.7" r="2.45"/><circle class="b" cx="450.0" cy="113.7" r="2.45"/><circle class="b" cx="474.0" cy="86.3" r="2.45"/><circle class="b" cx="490.9" cy="79.3" r="2.45"/><circle class="c" cx="526.7" cy="108.9" r="2.45"/><circle class="b" cx="536.0" cy="112.7" r="2.45"/><circle class="c" cx="559.7" cy="113.5" r="2.45"/><circle class="a" cx="294.8" cy="65.9" r="2.45"/><circle class="a" cx="295.3" cy="68.5" r="2.45"/><circle class="a" cx="311.3" cy="63.2" r="2.45"/><circle class="b" cx="343.6" cy="69.5" r="2.45"/><circle class="b" cx="430.5" cy="70.0" r="2.45"/><circle class="a" cx="131.8" cy="163.6" r="2.45"/><circle class="c" cx="457.8" cy="162.8" r="2.45"/><circle class="b" cx="359.5" cy="117.6" r="2.45"/><circle class="c" cx="401.4" cy="12.0" r="2.45"/></g>
<rect x="49.00" y="13.50" width="573.90" height="279.70" fill="none" stroke="#000" stroke-width="0.65"/>
<path d="M49.00 293.20v2.4M96.82 293.20v2.4M144.65 293.20v2.4M192.47 293.20v2.4M240.30 293.20v2.4M288.12 293.20v2.4M335.95 293.20v2.4M383.77 293.20v2.4M431.60 293.20v2.4M479.42 293.20v2.4M527.25 293.20v2.4M575.07 293.20v2.4M622.90 293.20v2.4M49.00 293.20h-2.4M49.00 258.24h-2.4M49.00 223.27h-2.4M49.00 188.31h-2.4M49.00 153.35h-2.4M49.00 118.39h-2.4M49.00 83.42h-2.4M49.00 48.46h-2.4M49.00 13.50h-2.4" stroke="#000" stroke-width="0.7" fill="none"/>
<rect x="54.2" y="18.5" width="145.5" height="48.6" rx="2" ry="2" fill="#fff" fill-opacity="0.8" stroke="#ccc" stroke-width="0.9"/>
<circle class="a" cx="68.5" cy="28.5" r="3.1" style="stroke-width:.9"/><circle class="b" cx="68.5" cy="43.2" r="3.1" style="stroke-width:.9"/><circle class="c" cx="68.5" cy="57.9" r="3.1" style="stroke-width:.9"/><g stroke="#000" stroke-width="0.7" fill="none"><circle cx="391" cy="320.3" r="2.6" style="stroke-width:.7"/><path d="M388.4 320.3h5.2M391 317.7v5.2"/></g>
</svg>
<div class="t tk" style="left:36.8px;top:287.9px;transform:scaleX(1.043)">0</div>
<div class="t tk" style="left:22.2px;top:253.0px;transform:scaleX(1.043)">500</div>
<div class="t tk" style="left:15.0px;top:218.0px;transform:scaleX(1.043)">1000</div>
<div class="t tk" style="left:15.0px;top:183.0px;transform:scaleX(1.043)">1500</div>
<div class="t tk" style="left:15.0px;top:148.1px;transform:scaleX(1.043)">2000</div>
<div class="t tk" style="left:15.0px;top:113.1px;transform:scaleX(1.043)">2500</div>
<div class="t tk" style="left:15.0px;top:78.1px;transform:scaleX(1.043)">3000</div>
<div class="t tk" style="left:15.0px;top:43.2px;transform:scaleX(1.043)">3500</div>
<div class="t tk" style="left:15.0px;top:8.2px;transform:scaleX(1.043)">4000</div>
<div class="t tk" style="left:45.4px;top:296.4px;transform:scaleX(1.043)">0</div>
<div class="t tk" style="left:93.2px;top:296.4px;transform:scaleX(1.043)">2</div>
<div class="t tk" style="left:141.0px;top:296.4px;transform:scaleX(1.043)">4</div>
<div class="t tk" style="left:188.8px;top:296.4px;transform:scaleX(1.043)">6</div>
<div class="t tk" style="left:236.7px;top:296.4px;transform:scaleX(1.043)">8</div>
<div class="t tk" style="left:280.9px;top:296.4px;transform:scaleX(1.043)">10</div>
<div class="t tk" style="left:328.7px;top:296.4px;transform:scaleX(1.043)">12</div>
<div class="t tk" style="left:376.5px;top:296.4px;transform:scaleX(1.043)">14</div>
<div class="t tk" style="left:424.3px;top:296.4px;transform:scaleX(1.043)">16</div>
<div class="t tk" style="left:472.2px;top:296.4px;transform:scaleX(1.043)">18</div>
<div class="t tk" style="left:520.0px;top:296.4px;transform:scaleX(1.043)">20</div>
<div class="t tk" style="left:567.8px;top:296.4px;transform:scaleX(1.043)">22</div>
<div class="t tk" style="left:615.6px;top:296.4px;transform:scaleX(1.043)">24</div>
<div class="t ti" style="left:199.0px;top:0.2px;transform:scaleX(1.104)">Mission Reference Sample (4 Year Mission Life)</div>
<div class="t lg" style="left:87.2px;top:21.9px;transform:scaleX(1.107)">Tier 1 (1000 planets)</div>
<div class="t lg" style="left:87.2px;top:36.5px;transform:scaleX(1.108)">Tier 2 (600 planets)</div>
<div class="t lg" style="left:87.2px;top:51.8px;transform:scaleX(1.109)">Tier 3 (50 planets)</div>
<div class="t lb" style="left:273.2px;top:311.6px;transform:scaleX(1.137)">Planetary Radius [</div>
<div class="t lb" style="left:379.6px;top:311.6px;transform:scaleX(0.883)"><i>R</i></div>
<div class="t lb" style="left:395.4px;top:311.6px;transform:scaleX(0.892)">]</div>
<div class="t yl" style="left:0.6px;top:230.3px;transform:rotate(-90deg) scaleX(1.184)">Planetary Temperature [K]</div>
</body></html>
